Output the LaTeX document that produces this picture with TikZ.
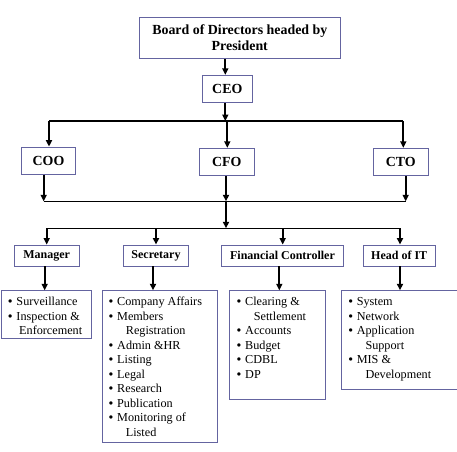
\documentclass[tikz,border=0pt]{standalone}
\usepackage{fontspec}
\setmainfont{Liberation Serif}
\usetikzlibrary{arrows.meta}
\definecolor{boxc}{RGB}{100,100,160}
\newcommand\bul{\rule{0pt}{10pt}\makebox[8.3pt][l]{\textbf{\textbullet}}}
\newcommand\cont[1][17pt]{\rule{0pt}{10pt}\hspace*{#1}}
\begin{document}
\begin{tikzpicture}[x=1pt,y=-1pt,
  hbox/.style={draw=boxc,line width=0.9pt,inner sep=0pt,align=center,font=\fontsize{13.9}{15.7}\selectfont\bfseries},
  sbox/.style={draw=boxc,line width=0.9pt,inner sep=0pt,align=center,minimum height=21pt,font=\fontsize{12}{14}\selectfont\bfseries},
  lbox/.style={draw=boxc,line width=0.9pt,inner sep=0pt,anchor=north west},
  ltext/.style={inner sep=0pt,anchor=north west,align=left,font=\fontsize{12.2}{14.5}\selectfont},
  arr/.style={line width=1.8pt,-{Triangle[length=6.5pt,width=6pt]}},
  ln/.style={line width=1.4pt}]
\useasboundingbox (0,0) rectangle (457,451);
% top boxes
\node[hbox,minimum width=201pt,minimum height=41.4pt] (board) at (239.8,38) {Board of Directors headed by\\President};
\node[hbox,minimum width=50pt,minimum height=27pt] (ceo) at (227.3,88.8) {CEO};
\node[hbox,minimum width=53.6pt,minimum height=27.3pt] (coo) at (48.5,160.7) {COO};
\node[hbox,minimum width=55pt,minimum height=27pt] (cfo) at (226.8,161.8) {CFO};
\node[hbox,minimum width=55.3pt,minimum height=27pt] (cto) at (400.7,161.8) {CTO};
% second-level
\node[sbox,minimum width=65.3pt] (mgr) at (46.7,255.5) {Manager};
\node[sbox,minimum width=65.4pt] (sec) at (156,255.5) {Secretary};
\node[sbox,minimum width=121.6pt] (fc) at (282.5,255.5) {Financial Controller};
\node[sbox,minimum width=71.7pt] (it) at (399.2,255.5) {Head of IT};
% list boxes
\node[lbox,minimum width=90.4pt,minimum height=48pt] (mgrL) at (0.5,290.3) {};
\node[lbox,minimum width=115pt,minimum height=151.7pt] (secL) at (101.7,290.3) {};
\node[lbox,minimum width=95.4pt,minimum height=109pt] (fcL) at (229.3,290.3) {};
\node[lbox,minimum width=116pt,minimum height=99pt] (itL) at (340.7,290.3) {};
% list texts
\node[ltext] (mgrT) at ([xshift=7.5pt,yshift=-5pt]mgrL.north west)
  {\bul Surveillance\\ \bul Inspection \&\\ \cont[11pt]Enforcement};
\node[ltext] (secT) at ([xshift=7pt,yshift=-5pt]secL.north west)
  {\bul Company Affairs\\ \bul Members\\ \cont Registration\\ \bul Admin \&HR\\ \bul Listing\\ \bul Legal\\ \bul Research\\ \bul Publication\\ \bul Monitoring of\\ \cont Listed};
\node[ltext] (fcT) at ([xshift=7.4pt,yshift=-5pt]fcL.north west)
  {\bul Clearing \&\\ \cont Settlement\\ \bul Accounts\\ \bul Budget\\ \bul CDBL\\ \bul DP};
\node[ltext] (itT) at ([xshift=7.6pt,yshift=-5pt]itL.north west)
  {\bul System\\ \bul Network\\ \bul Application\\ \cont Support\\ \bul MIS \&\\ \cont Development};
% junction coordinates
\coordinate (j1) at (225.3,121);
\coordinate (b1l) at (49,121);
\coordinate (b1c) at (227.3,121);
\coordinate (b1r) at (403.3,121);
\coordinate (b2l) at (43.7,201.3);
\coordinate (b2c) at (226,201.3);
\coordinate (b2r) at (405.7,201.3);
\coordinate (j3) at (226,228.3);
\coordinate (b3a) at (46.7,228.3);
\coordinate (b3b) at (156,228.3);
\coordinate (b3c) at (282.7,228.3);
\coordinate (b3d) at (400,228.3);
% connectors
\draw[arr] (board.south -| j1) -- (ceo.north -| j1);
\draw[arr] (ceo.south -| j1) -- (j1);
\draw[ln] (b1l) -- (b1r);
\draw[arr] (b1l) -- (coo.north -| b1l);
\draw[arr] (b1c) -- (cfo.north -| b1c);
\draw[arr] (b1r) -- (cto.north -| b1r);
\draw[arr] (coo.south -| b2l) -- (b2l);
\draw[arr] (cfo.south -| b2c) -- (b2c);
\draw[arr] (cto.south -| b2r) -- (b2r);
\draw[ln] (b2l) -- (b2r);
\draw[arr] (b2c) -- (j3);
\draw[ln] (b3a) -- (b3d);
\draw[arr] (b3a) -- (mgr.north -| b3a);
\draw[arr] (b3b) -- (sec.north -| b3b);
\draw[arr] (b3c) -- (fc.north -| b3c);
\draw[arr] (b3d) -- (it.north -| b3d);
\draw[arr] ([xshift=-2pt]mgr.south) -- ([xshift=-2pt]mgr.south |- mgrL.north);
\draw[arr] ([xshift=-3pt]sec.south) -- ([xshift=-3pt]sec.south |- secL.north);
\draw[arr] ([xshift=-3.2pt]fc.south) -- ([xshift=-3.2pt]fc.south |- fcL.north);
\draw[arr] ([xshift=0.8pt]it.south) -- ([xshift=0.8pt]it.south |- itL.north);
\end{tikzpicture}
\end{document}
